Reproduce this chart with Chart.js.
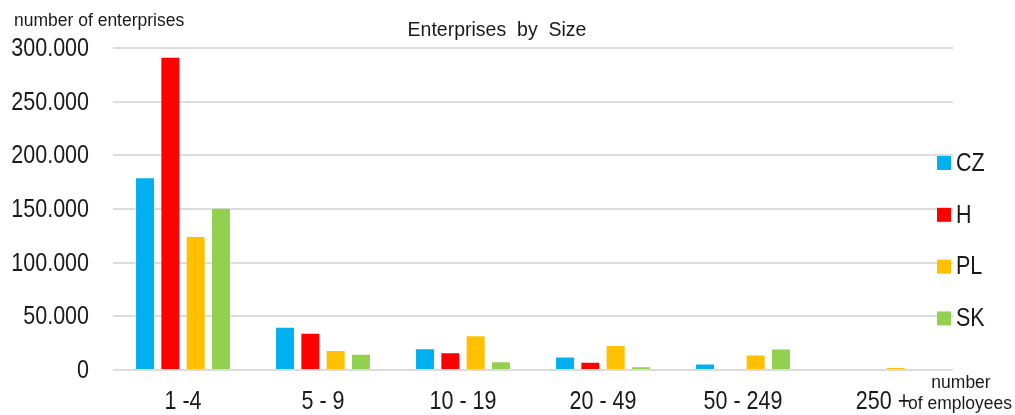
<!DOCTYPE html>
<html>
<head>
<meta charset="utf-8">
<script src="https://cdn.jsdelivr.net/npm/chart.js@4.4.1/dist/chart.umd.min.js"></script>
<style>
  html, body { margin: 0; padding: 0; background: #fff; }
  canvas { display: block; }
</style>
</head>
<body>
<canvas id="sizeChart" width="1015" height="415"></canvas>
<script>
const categories = ["1 -4", "5 - 9", "10 - 19", "20 - 49", "50 - 249", "250 +"];
const czValues = [179500, 40200, 20200, 12600, 6000, 700];
const hValues = [291900, 34600, 16500, 7600, 0, 0];
const plValues = [124800, 18700, 32300, 23300, 14400, 2800];
const skValues = [151200, 15200, 8100, 3500, 20000, 0];
const yTicks = [0, 50000, 100000, 150000, 200000, 250000, 300000];

const FONT = "'Liberation Sans', Arial, sans-serif";
const TEXT = "#1a1a1a";
const SQUEEZE = 0.86; // the original uses a narrow face

function fmt(v) {
  return String(v).replace(/\B(?=(\d{3})+(?!\d))/g, ".");
}

function narrowText(ctx, text, x, y, align) {
  ctx.save();
  ctx.translate(x, y);
  ctx.scale(SQUEEZE, 1);
  ctx.textAlign = align;
  ctx.textBaseline = "middle";
  ctx.font = "25px " + FONT;
  ctx.fillStyle = TEXT;
  ctx.fillText(text, 0, 0);
  ctx.restore();
}

// tick labels, title, axis captions and the right-hand legend
const extras = {
  id: "extras",
  afterDraw(chart) {
    const ctx = chart.ctx;
    const area = chart.chartArea;
    const xs = chart.scales.x;
    const ys = chart.scales.y;

    ys.ticks.forEach(t => {
      narrowText(ctx, fmt(t.value), area.left - 24, ys.getPixelForValue(t.value) + 1, "right");
    });
    chart.data.labels.forEach((lab, i) => {
      narrowText(ctx, lab, xs.getPixelForValue(i), area.bottom + 32, "center");
    });

    ctx.save();
    ctx.fillStyle = TEXT;
    ctx.textBaseline = "middle";

    ctx.font = "19.5px " + FONT;
    ctx.textAlign = "center";
    ctx.fillText("Enterprises  by  Size", 497, 31);

    ctx.font = "17.5px " + FONT;
    ctx.textAlign = "left";
    ctx.fillText("number of enterprises", 14, 21);

    ctx.textAlign = "center";
    ctx.fillText("number", area.right + 8, 383);
    ctx.fillText("of employees", area.right + 7, 404);

    // legend
    chart.data.datasets.forEach((ds, i) => {
      const y = 163 + i * 51.8;
      ctx.fillStyle = ds.backgroundColor;
      ctx.fillRect(area.right - 16, y - 7, 14, 14);
      narrowText(ctx, ds.label, area.right + 3, y + 1, "left");
    });
    ctx.restore();
  }
};

function series(label, data, color) {
  return {
    label: label,
    data: data,
    backgroundColor: color,
    borderColor: "rgba(255,255,255,0.35)",
    borderWidth: 1,
    categoryPercentage: 0.723,
    barPercentage: 0.79
  };
}

new Chart(document.getElementById("sizeChart"), {
  type: "bar",
  data: {
    labels: categories,
    datasets: [
      series("CZ", czValues, "#00b0f0"),
      series("H", hValues, "#ff0000"),
      series("PL", plValues, "#ffc000"),
      series("SK", skValues, "#92d050")
    ]
  },
  options: {
    responsive: false,
    animation: false,
    layout: { padding: { top: 48, right: 62, left: 0, bottom: 0 } },
    plugins: {
      legend: { display: false },
      title: { display: false },
      tooltip: { enabled: false }
    },
    scales: {
      x: {
        grid: { display: false },
        border: { display: false },
        ticks: { display: false },
        afterFit(scale) { scale.height = 45; }
      },
      y: {
        min: 0,
        max: 300000,
        afterBuildTicks(scale) {
          scale.ticks = yTicks.map(v => ({ value: v }));
        },
        grid: { color: "#dcdcdc", lineWidth: 2, drawTicks: false },
        border: { display: false },
        ticks: { display: false },
        afterFit(scale) { scale.width = 113; }
      }
    }
  },
  plugins: [extras]
});
</script>
</body>
</html>
